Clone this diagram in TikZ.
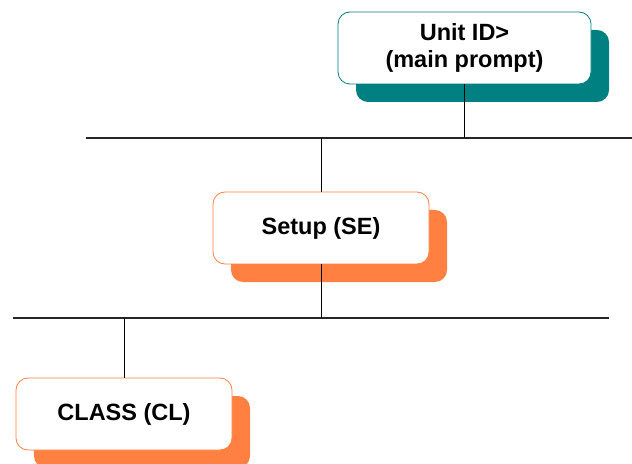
\documentclass[tikz,border=0pt]{standalone}
\usepackage{fontspec}
\setmainfont{Liberation Sans}
\usetikzlibrary{shadows}
\definecolor{tealshade}{HTML}{008080}
\definecolor{orangeshade}{HTML}{FF8040}
\begin{document}
\begin{tikzpicture}[x=1bp,y=-1bp,
  menubox/.style={draw=#1, line width=0.8bp, fill=white, rounded corners=12bp,
    minimum width=216bp, minimum height=72bp, inner sep=0pt, align=center,
    font=\fontsize{23.5bp}{27bp}\selectfont\bfseries,
    general shadow={shadow xshift=18bp, shadow yshift=-18bp, fill=#1, opacity=1}},
  bus/.style={line width=1.3bp, draw=black!85},
  link/.style={line width=1bp, draw=black}]
  \useasboundingbox (0,0) rectangle (632,464);

  % horizontal bus lines
  \coordinate (b1l) at (86,138);  \coordinate (b1r) at (632,138);
  \coordinate (b2l) at (13,318);  \coordinate (b2r) at (609,318);
  \draw[bus] (b1l) -- (b1r);
  \draw[bus] (b2l) -- (b2r);

  % menu boxes
  \node[menubox=tealshade, minimum width=253bp] (unit) at (464.5,48) {Unit ID>\\(main prompt)};
  \node[menubox=orangeshade] (setup) at (321,228) {Setup (SE)};
  \node[menubox=orangeshade] (class) at (124,414) {CLASS (CL)};

  % links between boxes and bus lines
  \draw[link] (unit.south) -- (unit.south |- b1l);
  \draw[link] (setup.north) -- (setup.north |- b1l);
  \draw[link] (setup.south) -- (setup.south |- b2l);
  \draw[link] (class.north) -- (class.north |- b2l);
\end{tikzpicture}
\end{document}
